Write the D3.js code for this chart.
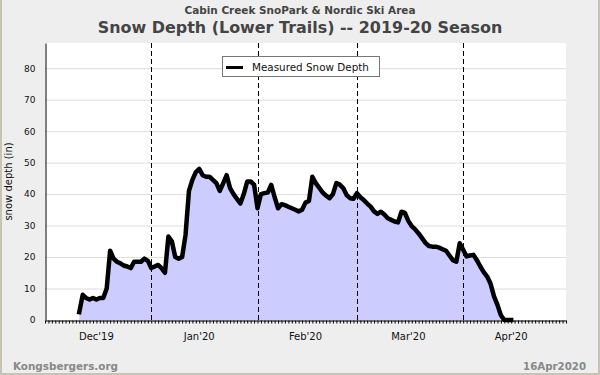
<!DOCTYPE html>
<html>
<head>
<meta charset="utf-8">
<script src="https://cdn.jsdelivr.net/npm/d3@7"></script>
<style>
  body { margin: 0; background: #eeeeee; }
  svg { display: block; font-family: "DejaVu Sans", Verdana, sans-serif; }
</style>
</head>
<body>
<svg width="600" height="375"></svg>
<script>
// ---- data ----
var firstDay = "2019-11-27";
// one reading per day, inches
var depth = [
  2.5, 8, 7, 6.5, 7, 6.5, 7, 7, 10, 22,
  19.5, 18.5, 18, 17.3, 17, 16.5, 18.5, 18.5, 18.5, 19.5,
  18.8, 16.5, 17, 17.5, 16.5, 15, 26.5, 25, 20, 19.5,
  20, 27, 41, 44.5, 47, 48, 46, 45.5, 45.5, 44.5,
  43.5, 41, 43.5, 46, 41.9, 40, 38.5, 37, 40, 44,
  44, 43, 35.5, 40, 40.3, 40.5, 42.9, 39, 35.5, 36.8,
  36.5, 36, 35.5, 35, 34.5, 35, 37.3, 37.8, 45.5, 43.5,
  42, 40.5, 39.5, 38.7, 40, 43.5, 43, 41.9, 39.7, 38.7,
  38.5, 40.3, 39, 38.1, 37, 36, 34.5, 33.7, 34.4, 33.5,
  32.3, 31.8, 31.3, 31, 34.4, 34, 31.5, 29.8, 28.8, 27.5,
  26, 24.5, 23.5, 23.3, 23.3, 23, 22.5, 22, 20.5, 19,
  18.5, 24.4, 22.3, 20.2, 20.5, 20.7, 19, 17, 15.2, 13.8,
  11.5, 7.5, 4.8, 1.5, 0, 0, 0
];
var xStart = "2019-11-17", xEnd = "2020-04-17";
var monthLabels = ["Dec'19", "Jan'20", "Feb'20", "Mar'20", "Apr'20"];
var monthLabelDates = ["2019-12-02", "2020-01-01", "2020-02-01", "2020-03-02", "2020-04-01"];
var markerDates = ["2019-12-18", "2020-01-18", "2020-02-16", "2020-03-18"];
var yTicks = [0, 10, 20, 30, 40, 50, 60, 70, 80];
var yMax = 88;

var subTitle = "Cabin Creek SnoPark & Nordic Ski Area",
    mainTitle = "Snow Depth (Lower Trails) -- 2019-20 Season",
    yLabel = "snow depth (in)",
    legendName = "Measured Snow Depth",
    siteName = "Kongsbergers.org",
    stamp = "16Apr2020";

// ---- layout ----
var svg = d3.select("svg"),
    W = +svg.attr("width"), H = +svg.attr("height"),
    plot = {left: 45, right: 566, top: 43, bottom: 320};

// scale a text's font size so it spans the wanted width
function fitWidth(sel, target) {
  var size = parseFloat(sel.style("font-size"));
  var w = sel.node().getComputedTextLength();
  if (w > 0) sel.style("font-size", (size * target / w).toFixed(2) + "px");
  return sel;
}

var parse = d3.timeParse("%Y-%m-%d");
var day0 = parse(firstDay);
var data = depth.map(function(v, i) {
  return {date: d3.timeDay.offset(day0, i), value: v};
});

var x = d3.scaleTime()
    .domain([parse(xStart), parse(xEnd)])
    .range([plot.left, plot.right]);
var y = d3.scaleLinear()
    .domain([0, yMax])
    .range([plot.bottom, plot.top]);

// frame + backgrounds
svg.append("rect")
    .attr("width", W).attr("height", H)
    .attr("fill", "#eeeeee");
svg.append("path")
    .attr("d", "M1,0 V" + (H - 1) + " H" + (W - 1) + " V0")
    .attr("fill", "none")
    .attr("stroke", "#c8c4b4")
    .attr("stroke-width", 2);
svg.append("rect")
    .attr("x", plot.left).attr("y", plot.top)
    .attr("width", plot.right - plot.left)
    .attr("height", plot.bottom - plot.top)
    .attr("fill", "#ffffff");

// grid lines
svg.append("g")
    .attr("transform", "translate(" + plot.left + ",0)")
    .call(d3.axisLeft(y).tickValues(yTicks.filter(function(t) { return t > 0; }))
      .tickSize(-(plot.right - plot.left)).tickFormat(""))
    .call(function(g) {
      g.select(".domain").remove();
      g.selectAll("line").attr("stroke", "#dddddd");
    });

// filled area + line
var area = d3.area()
    .x(function(d) { return x(d.date); })
    .y0(y(0))
    .y1(function(d) { return y(d.value); });
var line = d3.line()
    .x(function(d) { return x(d.date); })
    .y(function(d) { return y(d.value); });

svg.append("path")
    .datum(data)
    .attr("fill", "#ccccff")
    .attr("d", area);

// dashed markers
svg.selectAll(".marker")
    .data(markerDates)
    .enter().append("line")
      .attr("class", "marker")
      .attr("x1", function(d) { return Math.round(x(parse(d))) + 0.5; })
      .attr("x2", function(d) { return Math.round(x(parse(d))) + 0.5; })
      .attr("y1", plot.top)
      .attr("y2", plot.bottom)
      .attr("stroke", "#000")
      .attr("stroke-dasharray", "5,3");

svg.append("path")
    .datum(data)
    .attr("fill", "none")
    .attr("stroke", "#000")
    .attr("stroke-width", 4.5)
    .attr("stroke-linejoin", "round")
    .attr("stroke-linecap", "square")
    .attr("d", line);

// x axis (daily ticks)
svg.append("g")
    .attr("transform", "translate(0," + (plot.bottom + 0.5) + ")")
    .call(d3.axisBottom(x).ticks(d3.timeDay.every(1)).tickSize(3)
      .tickSizeOuter(0).tickFormat(""))
    .call(function(g) {
      g.selectAll("line").attr("stroke", "#000");
      g.select(".domain").attr("stroke", "#000");
    });

svg.append("g").selectAll("text")
    .data(monthLabelDates)
    .enter().append("text")
      .attr("x", function(d) { return x(parse(d)); })
      .attr("y", 339.5)
      .attr("text-anchor", "middle")
      .style("font-size", "10px")
      .attr("fill", "#111")
      .text(function(d, i) { return monthLabels[i]; });

// y axis
svg.append("g")
    .attr("transform", "translate(" + (plot.left + 0.5) + ",0)")
    .call(d3.axisLeft(y).tickValues(yTicks).tickSize(0).tickSizeOuter(0).tickPadding(10))
    .call(function(g) {
      g.select(".domain").attr("stroke", "#000");
      g.selectAll("text")
        .attr("fill", "#111")
        .style("font-size", "9px")
        .style("font-family", "DejaVu Sans, sans-serif");
    });

svg.append("text")
    .attr("transform", "translate(11.5," + ((plot.top + plot.bottom) / 2) + ") rotate(-90)")
    .attr("text-anchor", "middle")
    .style("font-size", "10px")
    .attr("fill", "#111")
    .text(yLabel);

// titles
svg.append("text")
    .attr("x", W / 2).attr("y", 14)
    .attr("text-anchor", "middle")
    .style("font-size", "12px")
    .style("font-weight", "bold")
    .attr("fill", "#444")
    .text(subTitle)
    .call(fitWidth, 231);
svg.append("text")
    .attr("x", W / 2).attr("y", 33)
    .attr("text-anchor", "middle")
    .style("font-size", "16px")
    .style("font-weight", "bold")
    .attr("fill", "#444")
    .text(mainTitle)
    .call(fitWidth, 405);

// legend
var legend = svg.append("g").attr("class", "legend");
legend.append("rect")
    .attr("x", 222.5).attr("y", 56.5)
    .attr("width", 157).attr("height", 20)
    .attr("fill", "#fff")
    .attr("stroke", "#777");
legend.append("line")
    .attr("x1", 226).attr("x2", 243)
    .attr("y1", 67.5).attr("y2", 67.5)
    .attr("stroke", "#000")
    .attr("stroke-width", 3);
legend.append("text")
    .attr("x", 252).attr("y", 71)
    .style("font-size", "10.5px")
    .attr("fill", "#111")
    .text(legendName)
    .call(fitWidth, 117);

// footer
svg.append("text")
    .attr("x", 13).attr("y", 370)
    .style("font-size", "10.5px")
    .style("font-weight", "bold")
    .attr("fill", "#888")
    .text(siteName)
    .call(fitWidth, 105);
svg.append("text")
    .attr("x", 586).attr("y", 370)
    .attr("text-anchor", "end")
    .style("font-size", "10.5px")
    .style("font-weight", "bold")
    .attr("fill", "#888")
    .text(stamp)
    .call(fitWidth, 63);
</script>
</body>
</html>
